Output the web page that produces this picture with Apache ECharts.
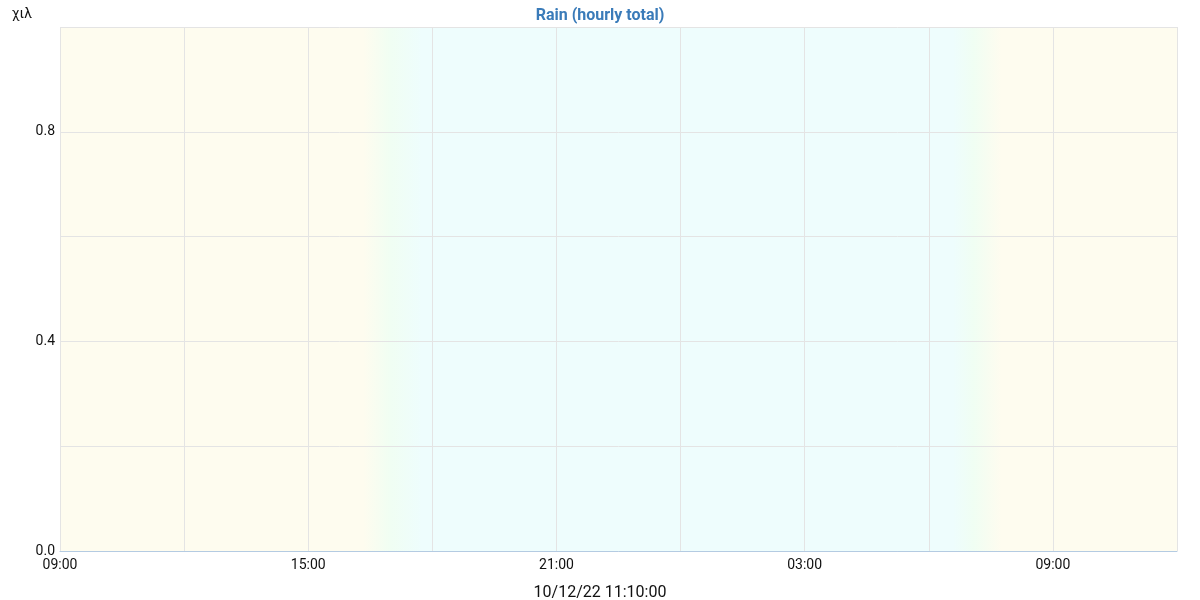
<!DOCTYPE html>
<html>
<head>
<meta charset="utf-8">
<script src="https://cdn.jsdelivr.net/npm/echarts@6/dist/echarts.min.js"></script>
<style>html,body{margin:0;padding:0;background:#fff}#c{width:1200px;height:600px}</style>
</head>
<body>
<div id="c"></div>
<script>
// ---- data ----
const titleText = 'Rain (hourly total)';
const yUnit = 'χιλ';
const stampText = '10/12/22 11:10:00';
const rangeStart = Date.UTC(2022, 11, 9, 9, 0);   // 09:00
const rangeEnd = Date.UTC(2022, 11, 10, 12, 0);   // 12:00 next day
const hourTimes = ['2022-12-09T09:00','2022-12-09T10:00','2022-12-09T11:00','2022-12-09T12:00','2022-12-09T13:00','2022-12-09T14:00','2022-12-09T15:00','2022-12-09T16:00','2022-12-09T17:00','2022-12-09T18:00','2022-12-09T19:00','2022-12-09T20:00','2022-12-09T21:00','2022-12-09T22:00','2022-12-09T23:00','2022-12-10T00:00','2022-12-10T01:00','2022-12-10T02:00','2022-12-10T03:00','2022-12-10T04:00','2022-12-10T05:00','2022-12-10T06:00','2022-12-10T07:00','2022-12-10T08:00','2022-12-10T09:00','2022-12-10T10:00','2022-12-10T11:00'];
const rainValues = [0,0,0,0,0,0,0,0,0,0,0,0,0,0,0,0,0,0,0,0,0,0,0,0,0,0,0];
// day/night transitions (UTC)
const duskStart = Date.UTC(2022, 11, 9, 16, 20);
const duskMid = Date.UTC(2022, 11, 9, 17, 0);
const duskEnd = Date.UTC(2022, 11, 9, 17, 45);
const dawnStart = Date.UTC(2022, 11, 10, 6, 35);
const dawnMid = Date.UTC(2022, 11, 10, 7, 5);
const dawnEnd = Date.UTC(2022, 11, 10, 7, 45);

const HOUR = 3600 * 1000;
const toMs = s => Date.parse(s + ':00Z');
const frac = t => (t - rangeStart) / (rangeEnd - rangeStart);
const dayC = '#fefcef', nightC = '#eefdfd', midC = '#f0fef3';
const bg = new echarts.graphic.LinearGradient(0, 0, 1, 0, [
  {offset: 0, color: dayC},
  {offset: frac(duskStart), color: dayC},
  {offset: frac(duskMid), color: midC},
  {offset: frac(duskEnd), color: nightC},
  {offset: frac(dawnStart), color: nightC},
  {offset: frac(dawnMid), color: midC},
  {offset: frac(dawnEnd), color: dayC},
  {offset: 1, color: dayC}
]);
const pad = n => (n < 10 ? '0' : '') + n;

const chart = echarts.init(document.getElementById('c'), null, {renderer: 'canvas'});
chart.setOption({
  animation: false,
  backgroundColor: '#fff',
  textStyle: {fontFamily: 'Roboto'},
  title: {
    text: titleText, left: 'center', top: 3,
    textStyle: {color: '#3a7bb9', fontSize: 16, fontWeight: 'bold', fontFamily: 'Roboto'}
  },
  grid: {left: 60, right: 23, top: 27, bottom: 49, show: true, backgroundColor: bg, borderWidth: 0,
         containLabel: false, outerBoundsMode: 'none'},
  xAxis: {
    type: 'value', min: rangeStart, max: rangeEnd, interval: 3 * HOUR,
    name: stampText, nameLocation: 'middle', nameGap: 34,
    nameTextStyle: {color: '#111', fontSize: 16, fontFamily: 'Roboto', padding: [0, 37, 0, 0]},
    axisLine: {show: true, lineStyle: {color: '#b4cbe2', width: 1}},
    axisTick: {show: false},
    axisLabel: {
      color: '#111', fontSize: 14, margin: 7, showMaxLabel: true,
      formatter: v => { const d = new Date(v); const h = d.getUTCHours(); return (h % 6 === 3) ? pad(h) + ':' + pad(d.getUTCMinutes()) : ''; }
    },
    splitLine: {show: true, lineStyle: {color: '#e4e4e4', width: 1}}
  },
  yAxis: {
    type: 'value', min: 0, max: 1, interval: 0.2,
    name: yUnit, nameLocation: 'end', nameGap: 13,
    nameTextStyle: {color: '#111', fontSize: 14, align: 'right', verticalAlign: 'middle', padding: [0, 28, 0, 0]},
    axisLine: {show: false}, axisTick: {show: false},
    axisLabel: {
      color: '#111', fontSize: 14, margin: 5, padding: [6, 0, 0, 0],
      formatter: v => { const k = Math.round(v * 10); return (k % 4 === 0 && k < 10) ? v.toFixed(1) : ''; }
    },
    splitLine: {show: true, lineStyle: {color: '#e4e4e4', width: 1}}
  },
  series: [{
    type: 'bar', name: titleText,
    data: hourTimes.map((t, i) => [toMs(t) + HOUR / 2, rainValues[i]]),
    barWidth: '80%',
    itemStyle: {color: '#3a7bbf'}
  }]
});
</script>
</body>
</html>
